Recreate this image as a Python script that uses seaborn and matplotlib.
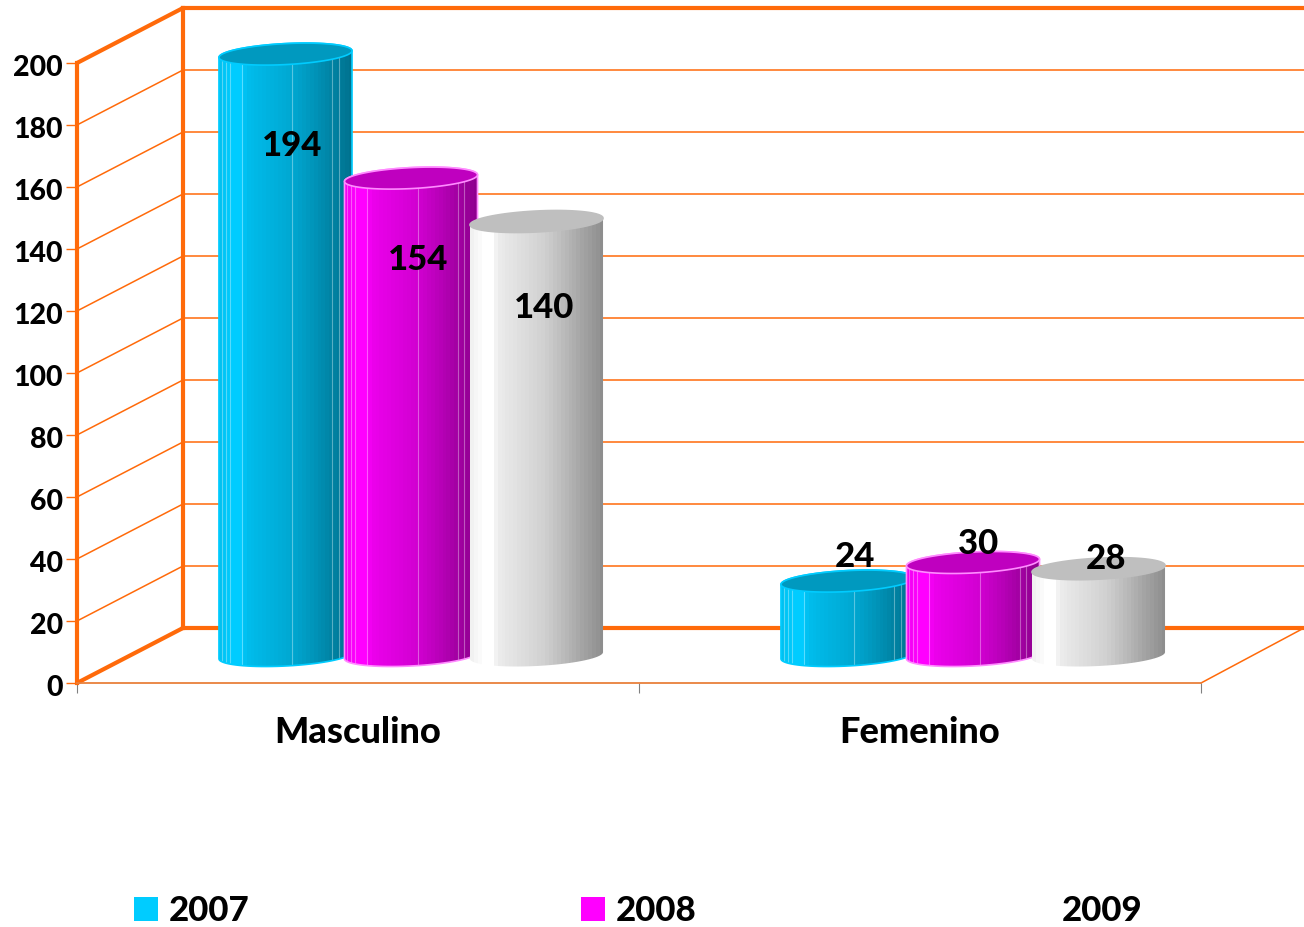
import numpy as np
import pandas as pd
import seaborn as sns
import matplotlib.pyplot as plt
from matplotlib.colors import to_rgb
from matplotlib.patches import Patch, PathPatch
from matplotlib.path import Path
from matplotlib.transforms import ScaledTranslation

categorias = ["Masculino", "Femenino"]
anios = ["2007", "2008", "2009"]
valores_2007 = [194, 24]
valores_2008 = [154, 30]
valores_2009 = [140, 28]
y_ticks = [0, 20, 40, 60, 80, 100, 120, 140, 160, 180, 200]

colores = {"2007": "#00CCFF", "2008": "#FF00FF", "2009": "#FFFFFF"}
bordes = {"2007": "#00CCFF", "2008": "#FF8CFF", "2009": "#BFBFBF"}
naranja = "#FF6A0A"

# tamaño en pixeles
W, H = 1304, 927
X0, X1, Y0, Y1 = 77, 1201, 683, 63   # plano frontal
DX, DY = 106, 55                     # profundidad total
PX_CAT = (X1 - X0) / 2
PX_VAL = (Y0 - Y1) / 200
PESO = "black"

sns.set_theme(style="white")
plt.rcParams["font.family"] = ["Lato", "DejaVu Sans"]


def crear_ejes(fig, dx, dy, zorder):
    pos = [(X0 + dx) / W, (H - Y0 + dy) / H, (X1 - X0) / W, (Y0 - Y1) / H]
    ax = fig.add_axes(pos, zorder=zorder)
    ax.set_xlim(-0.5, 1.5)
    ax.set_ylim(0, 200)
    ax.patch.set_alpha(0)
    return ax


def curva(cx, cy, a, b, t0, t1, n=40):
    # elipse inclinada, en unidades de datos
    t = np.linspace(t0, t1, n)
    px = a * np.cos(t)
    py = b * np.sin(t) + 0.05 * px
    return np.column_stack([cx + px / PX_CAT, cy + py / PX_VAL])


fig = plt.figure(figsize=(W / 100, H / 100), dpi=100)

# --- pared del fondo ---
ax_fondo = crear_ejes(fig, DX, DY, 1)
ax_fondo.set_yticks(y_ticks)
ax_fondo.set_xticks([])
ax_fondo.tick_params(left=False, labelleft=False)
ax_fondo.grid(axis="y", color=naranja, lw=1.1)
for lado, lw in [("left", 3), ("top", 3), ("bottom", 3), ("right", 0)]:
    ax_fondo.spines[lado].set_color(naranja)
    ax_fondo.spines[lado].set_linewidth(lw)

dx_d = DX / PX_CAT
dy_d = DY / PX_VAL
for v in y_ticks:
    grueso = v in (0, 200)
    ax_fondo.plot([-0.5 - dx_d, -0.5], [v - dy_d, v], color=naranja,
                  lw=3 if grueso else 1.1, clip_on=False, solid_capstyle="round")
ax_fondo.plot([1.5 - dx_d, 1.5 - dx_d + 103 / PX_CAT], [-dy_d, 0], color=naranja,
              lw=1.1, clip_on=False)

# --- plano frontal: ejes y etiquetas ---
ax_frente = crear_ejes(fig, 0, 0, 2)
ax_frente.set_yticks(y_ticks)
ax_frente.set_yticklabels(y_ticks, fontweight=PESO, fontsize=20.5, color="black")
ax_frente.set_xticks([0, 1])
ax_frente.set_xticklabels(categorias, fontsize=26, fontweight=PESO, color="black")
ax_frente.set_xticks([-0.5, 0.5, 1.5], minor=True)
ax_frente.tick_params(axis="x", which="major", length=0, pad=23.5)
ax_frente.tick_params(axis="x", which="minor", bottom=True, length=7, width=0.8, color="#808080")
ax_frente.tick_params(axis="y", left=True, length=8, width=1, color=naranja, pad=2)
for lado in ["top", "right"]:
    ax_frente.spines[lado].set_visible(False)
ax_frente.spines["left"].set_color(naranja)
ax_frente.spines["left"].set_linewidth(3)
ax_frente.spines["bottom"].set_color("#E8803C")
ax_frente.spines["bottom"].set_linewidth(1.3)
# los números del eje van un poco por debajo de su marca
bajar = ScaledTranslation(0, -2 / 100, fig.dpi_scale_trans)
for lab in ax_frente.get_yticklabels():
    lab.set_transform(lab.get_transform() + bajar)

# --- barras ---
df = pd.DataFrame({
    "categoria": categorias * 3,
    "anio": np.repeat(anios, 2),
    "valor": valores_2007 + valores_2008 + valores_2009,
})
ax = crear_ejes(fig, DX / 2, DY / 2, 3)
sns.barplot(data=df, x="categoria", y="valor", hue="anio", hue_order=anios, palette=colores,
            order=categorias, width=0.67, gap=-0.06, legend=False, ax=ax)
ax.set_axis_off()

# sombreado del cilindro, por bandas
paradas_x = [0.0, 0.1, 0.17, 0.2, 0.55, 0.75, 1.0]
paradas_y = [0.94, 1.0, 1.0, 0.93, 0.82, 0.7, 0.55]
bandas = np.interp((np.arange(34) + 0.5) / 34, paradas_x, paradas_y)
costuras = [0.02, 0.05, 0.08, 0.17, 0.55, 0.85, 0.9]
# desplazamiento de cada número respecto al centro de la boca del cilindro (px)
desp_etiquetas = {"2007": [(7, -92), (7, 24)],
                  "2008": [(7, -82), (5, 18)],
                  "2009": [(8, -87), (7, 10)]}

z = 5
for i_cat in range(len(categorias)):
    for anio, cont in zip(anios, ax.containers):
        rect = cont.patches[i_cat]
        rect.set_visible(False)
        x, w, h = rect.get_x(), rect.get_width(), rect.get_height()
        cx = x + w / 2
        a = w * PX_CAT / 2
        b = 10.5
        color = np.array(to_rgb(colores[anio]))
        arriba = curva(cx, h, a, b, np.pi, 0)
        abajo = curva(cx, 0, a, b, 0, -np.pi)
        cuerpo = np.vstack([abajo, arriba, abajo[:1]])
        borde = PathPatch(Path(cuerpo, closed=True), facecolor="none", edgecolor=bordes[anio],
                          lw=0 if anio == "2009" else 1.2, zorder=z + 1, clip_on=False)
        ax.add_patch(borde)
        img = ax.imshow(bandas[None, :, None] * color, extent=(x, x + w, -12, h + 6), aspect="auto",
                        interpolation="nearest", zorder=z)
        img.set_clip_path(borde)
        img.set_clip_box(fig.bbox)
        if anio != "2009":
            for c in costuras:
                ln = ax.plot([x + c * w] * 2, [-12, h], color="white", alpha=0.35, lw=0.8, zorder=z)[0]
                ln.set_clip_path(borde)
                ln.set_clip_box(fig.bbox)
        boca = curva(cx, h, a, b, 0, 2 * np.pi, 80)
        ax.add_patch(PathPatch(Path(boca, closed=True), facecolor=color * 0.75,
                               edgecolor=bordes[anio], lw=1.2, zorder=z + 2, clip_on=False))
        z += 3
ax.set_xlim(-0.5, 1.5)
ax.set_ylim(0, 200)

# números encima de todo
for anio, valores, cont in zip(anios, [valores_2007, valores_2008, valores_2009], ax.containers):
    for i_cat, val in enumerate(valores):
        rect = cont.patches[i_cat]
        ax.annotate(str(val), (rect.get_x() + rect.get_width() / 2, rect.get_height()),
                    xytext=desp_etiquetas[anio][i_cat], textcoords="offset pixels",
                    ha="center", va="center", fontsize=25, fontweight=PESO, color="black",
                    zorder=100)

# --- leyenda ---
manijas = [Patch(facecolor=colores[a], edgecolor="none") for a in anios]
fig.legend(manijas, anios, ncol=3, frameon=False, loc="center left",
           bbox_to_anchor=(134 / W, (H - 911) / H), handlelength=0.7,
           handleheight=0.7, handletextpad=0.3, columnspacing=9.54, borderpad=0,
           borderaxespad=0, labelcolor="black", prop={"size": 25, "weight": PESO})

fig.savefig("out.png", dpi=100, facecolor="white")
